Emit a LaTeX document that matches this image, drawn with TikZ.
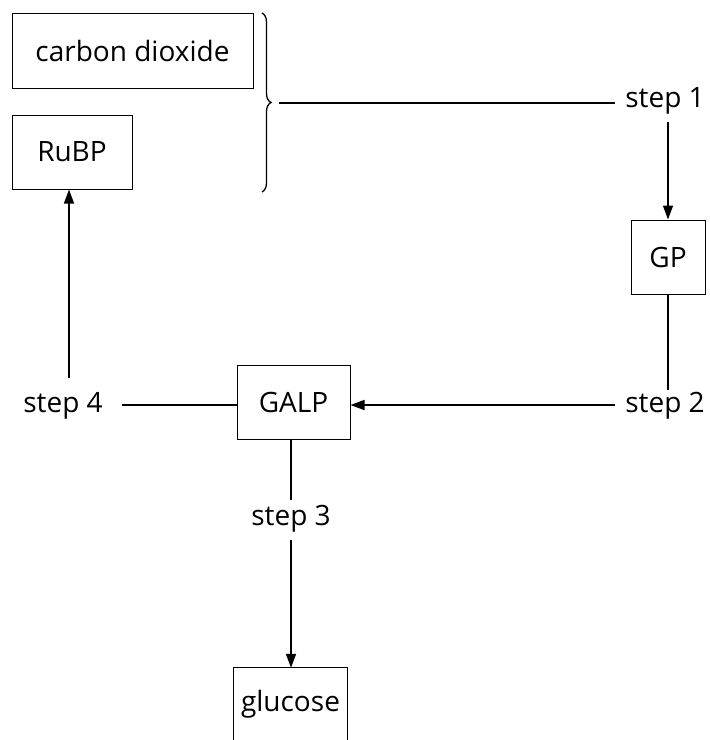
\documentclass[tikz,border=0pt]{standalone}
\usepackage{fontspec}
\setmainfont{Open Sans}
\usetikzlibrary{arrows.meta,decorations.pathreplacing}
\begin{document}
\begin{tikzpicture}[x=1pt,y=-1pt,
  box/.style={draw,line width=1pt,inner sep=0pt,font=\fontsize{28}{32}\selectfont},
  lbl/.style={inner sep=0pt,font=\fontsize{28}{32}\selectfont},
  conn/.style={line width=1.5pt},
  arr/.style={line width=1.5pt,-{Triangle[length=14pt,width=10pt]}}]
\useasboundingbox (0,0) rectangle (710,740);
\node[box,minimum width=241pt,minimum height=75pt] (co2) at (132.5,50.5) {carbon dioxide};
\node[box,minimum width=120pt,minimum height=74pt] (rubp) at (72,152) {RuBP};
\node[box,minimum width=74pt,minimum height=74pt] (gp) at (668,257) {GP};
\node[box,minimum width=113pt,minimum height=74pt] (galp) at (293.5,402) {GALP};
\node[lbl,draw=none,minimum width=113pt,minimum height=72pt] (glu) at (290.5,704) {glucose};
\draw[line width=1pt] (glu.south west) -- (glu.north west) -- (glu.north east) -- (glu.south east);
\node[lbl] (s1) at (665,101) {step 1};
\node[lbl] (s2) at (665,406) {step 2};
\node[lbl] (s3) at (291,519) {step 3};
\node[lbl] (s4) at (63,406) {step 4};
\coordinate (bt) at (262,13);
\coordinate (bb) at (262,192);
\draw[line width=1.3pt,decorate,decoration={brace,amplitude=9pt}] (bt) -- (bb);
\coordinate (tip) at (279,103);
\coordinate (e1) at (615,103);
\coordinate (a1) at (668,122);
\coordinate (e2) at (668,390);
\coordinate (a2) at (615,405);
\coordinate (e4) at (122,405);
\coordinate (a4) at (69,378);
\coordinate (e3) at (291,500);
\coordinate (a3) at (291,540);
\draw[conn] (tip) -- (e1);
\draw[arr] (a1) -- (gp.north);
\draw[conn] (gp.south) -- (e2);
\draw[arr] (a2) -- (galp.east |- a2);
\draw[conn] (galp.west |- e4) -- (e4);
\draw[arr] (a4) -- (rubp.south -| a4);
\draw[conn] (galp.south -| e3) -- (e3);
\draw[arr] (a3) -- (glu.north -| a3);
\end{tikzpicture}
\end{document}
